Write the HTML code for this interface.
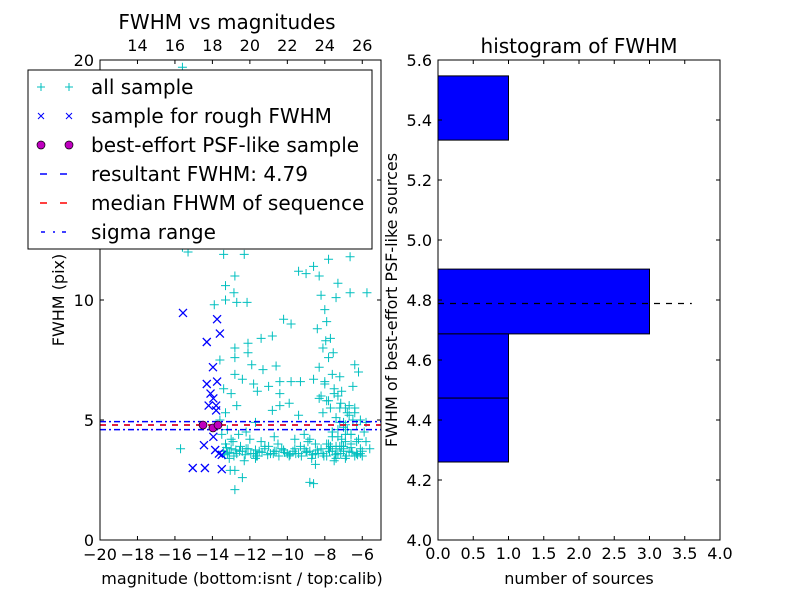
<!DOCTYPE html>
<html><head><meta charset="utf-8"><style>
body{margin:0;background:#fff}
svg{display:block;font-family:"DejaVu Sans","Liberation Sans",sans-serif}
</style></head><body>
<svg id="c" width="800" height="600" xmlns="http://www.w3.org/2000/svg"></svg>
<script>
// ---- data ----
const allX=[-15.6,-15.3,-15.6,-13.4,-12.3,-9.4,-9.0,-8.6,-8.3,-7.8,-6.65,-12.8,-13.3,-12.85,-13.3,-12.7,-12.15,-13.9,-7.3,-6.65,-5.75,-7.4,
-10.2,-9.8,-10.8,-11.4,-12.1,-12.8,-12.1,-12.8,-11.9,-11.3,-10.6,-12.8,-12.4,-11.8,-11.0,-10.4,-9.8,-9.3,-11.6,-10.4,-13.0,-12.7,-10.4,-9.9,-10.8,-9.4,-11.7,-15.7,
-13.05,-12.8,-12.4,-12.8,-8.5,-8.8,-8.6,-7.4,-6.0,-5.6,
-8.2,-8.0,-7.9,-8.4,-7.7,-8.1,-7.8,-8.3,-7.6,-8.0,-7.5,-8.2,-7.9,-7.7,-8.1,-7.4,-7.2,-7.0,-7.6,-7.3,-6.9,-6.7,-7.1,-6.5,-6.8,-7.4,-6.6,-6.3,-7.0,-6.2,-5.9,-6.4,-7.7,-8.5,-8.8,-9.1,-6.1,-5.8,-6.9,-7.2,
-13.4,-13.2,-13.0,-12.7,-12.4,-12.1,-11.8,-11.5,-11.2,-10.9,-10.6,-10.3,-10.0,-9.7,-9.4,-9.1,-8.8,-8.5,-8.2,-7.9,-7.6,-7.3,-7.0,-6.7,-6.4,-6.1,-13.3,-12.9,-12.5,-12.0,-11.6,-11.0,-10.5,-9.9,-9.3,-8.7,-8.1,-7.5,-6.9,-6.3,
-13.5,-13.6,-13.3,-13.4,-13.2,-13.6,-13.0,-12.6,-12.2,-11.4,-10.7,-9.6,-8.9,-7.8,-7.1,-6.6,-5.8,-13.1,-12.3,-11.7,
-13.35,-13.1,-12.85,-12.55,-12.25,-11.95,-11.65,-11.35,-11.05,-10.75,-10.45,-10.15,-9.85,-9.55,-9.25,-8.95,-8.65,-8.35,-8.05,-7.75,-7.45,-7.15,-6.85,-6.55,-6.25,
-13.25,-12.75,-12.2,-11.7,-11.2,-10.7,-10.2,-9.6,-9.0,-8.4,-7.8,-7.2,-6.6,-6.0,
-7.9,-7.6,-7.3,-7.0,-6.7,-6.4,-6.1,-7.8,-7.5,-7.2,-6.9,-6.6,-6.3,-7.7,-7.4,-7.1,-6.8,-6.5,-8.0,-7.3,-6.9,-6.2,-7.6,-7.0,-6.4,-8.3,-8.6,-7.95,-7.55,-7.15];
const allY=[19.7,12.0,12.2,11.9,11.9,11.2,11.1,11.4,11.0,11.7,11.8,11.0,10.6,10.3,10.0,9.9,9.9,9.8,10.7,10.3,10.3,10.1,
9.2,9.0,8.5,8.4,8.2,8.0,7.8,7.6,7.3,7.1,7.25,6.9,6.7,6.5,6.4,6.6,6.6,6.6,6.2,6.1,6.1,5.6,5.6,5.7,5.4,5.2,4.9,3.8,
2.9,2.9,2.6,2.1,3.15,2.4,2.35,3.4,3.5,3.8,
10.2,9.6,9.1,8.8,8.4,8.0,7.6,7.2,6.9,6.6,6.3,6.0,5.8,5.5,5.3,5.1,4.9,4.7,4.5,4.3,4.1,5.6,6.2,5.0,4.6,3.9,4.4,4.8,3.7,4.2,4.5,5.3,3.9,4.0,4.2,4.4,3.6,4.9,5.5,6.8,
3.7,3.6,3.8,3.6,3.7,3.8,3.6,3.7,3.9,3.6,3.7,3.8,3.6,3.7,3.6,3.8,3.7,3.6,3.8,3.5,3.7,3.6,3.9,3.7,3.5,3.8,4.0,4.1,3.9,4.2,3.5,3.9,4.0,3.5,3.9,3.4,3.6,3.3,3.4,3.6,
4.4,5.0,5.3,6.3,4.6,7.5,4.2,4.4,4.5,4.1,4.3,4.2,4.1,4.0,3.9,4.0,4.1,3.4,3.3,3.4,
3.55,3.65,3.5,3.7,3.55,3.6,3.5,3.65,3.55,3.6,3.5,3.65,3.55,3.6,3.5,3.65,3.55,3.6,3.5,3.7,3.55,3.6,3.5,3.65,3.55,
3.85,3.75,3.8,3.75,3.8,3.7,3.75,3.8,3.7,3.75,3.8,3.9,3.85,3.7,
4.0,4.3,4.6,4.9,5.2,5.5,5.0,5.8,6.1,5.5,4.8,4.4,4.1,3.9,3.8,4.2,5.3,6.4,6.5,6.0,4.4,7.0,4.5,3.8,7.3,5.9,6.7,8.3,7.8,5.7];
const roughX=[-15.57,-13.75,-13.6,-14.3,-13.97,-14.3,-13.75,-14.1,-13.95,-14.2,-13.8,-13.8,-14.45,-13.95,-13.85,-13.65,-13.5,-15.05,-14.4,-13.5];
const roughY=[9.46,9.2,8.6,8.25,7.2,6.5,6.6,6.1,5.9,5.6,5.6,5.4,3.95,4.3,3.75,3.6,3.55,3.0,3.0,2.95];
const psfX=[-14.5,-13.97,-13.7];
const psfY=[4.79,4.67,4.79];
const resultFWHM=4.79, medianFWHM=4.79, sigmaHi=4.93, sigmaLo=4.6;
const binLo=[5.333,4.687,4.473,4.26];
const binHi=[5.547,4.903,4.687,4.473];
const binCount=[1,3,1,1];
const botTicks=[-20,-18,-16,-14,-12,-10,-8,-6];
const topTicks=[14,16,18,20,22,24,26];
const leftYTicks=[0,5,10,15,20];
const hxTicks=[0,0.5,1,1.5,2,2.5,3,3.5,4];
const hyTicks=[4.0,4.2,4.4,4.6,4.8,5.0,5.2,5.4,5.6];

// ---- axes ----
const L={x0:100,x1:381,y0:540,y1:60};
const lx=v=>L.x0+(v+20)/15*(L.x1-L.x0);
const ly=v=>L.y0-v/20*(L.y0-L.y1);
const tx=v=>lx(v-32);
const R={x0:438,x1:720,y0:540,y1:60};
const rx=v=>R.x0+v/4*(R.x1-R.x0);
const ry=v=>R.y0-(v-4)/1.6*(R.y0-R.y1);

const svg=document.getElementById('c');
const NS='http://www.w3.org/2000/svg';
function el(tag,attrs,parent,text){const e=document.createElementNS(NS,tag);for(const k in attrs)e.setAttribute(k,attrs[k]);if(text!=null)e.textContent=text;(parent||svg).appendChild(e);return e;}
const fmtMinus=v=>String(v).replace('-','\u2212');

// left plot
const gL=el('g',{});


el('rect',{x:L.x0,y:L.y1,width:L.x1-L.x0,height:L.y0-L.y1,fill:'#fff'},gL);
const gAll=el('g',{stroke:'#00bfbf','stroke-width':1},gL);


allX.forEach((v,i)=>{const x=lx(v),y=ly(allY[i]);
 const p=el('path',{d:`M${x-4.5},${y}h9M${x},${y-4.5}v9`},gAll);
 
 });
const gR=el('g',{stroke:'#0000ff','stroke-width':1.3},gL);


roughX.forEach((v,i)=>{const x=lx(v),y=ly(roughY[i]);
 const p=el('path',{d:`M${x-4},${y-4}l8,8M${x-4},${y+4}l8,-8`},gR);
 
 });
// lines
const l1=el('line',{x1:L.x0,x2:L.x1,y1:ly(sigmaHi),y2:ly(sigmaHi),stroke:'#0000ff','stroke-width':1.5,'stroke-dasharray':'6,3,2,3'},gL);

const l2=el('line',{x1:L.x0,x2:L.x1,y1:ly(sigmaLo),y2:ly(sigmaLo),stroke:'#0000ff','stroke-width':1.5,'stroke-dasharray':'6,3,2,3'},gL);

const l3=el('line',{x1:L.x0,x2:L.x1,y1:ly(resultFWHM),y2:ly(resultFWHM),stroke:'#0000ff','stroke-width':1.5,'stroke-dasharray':'6,6'},gL);

const l4=el('line',{x1:L.x0,x2:L.x1,y1:ly(medianFWHM),y2:ly(medianFWHM),stroke:'#ff0000','stroke-width':1.5,'stroke-dasharray':'6,6'},gL);

psfX.forEach((v,i)=>{const c=el('circle',{cx:lx(v),cy:ly(psfY[i]),r:4,fill:'#bf00bf',stroke:'#000','stroke-width':0.7},gL);
 
 });
el('rect',{x:L.x0,y:L.y1,width:L.x1-L.x0,height:L.y0-L.y1,fill:'none',stroke:'#000','stroke-width':1},gL);
botTicks.forEach(v=>{const x=lx(v);el('path',{d:`M${x},${L.y0}v-4`,stroke:'#000'},gL);
 const t=el('text',{x:x,y:L.y0+20,'font-size':16,'text-anchor':'middle'},gL,fmtMinus(v));
 });
topTicks.forEach(v=>{const x=tx(v);el('path',{d:`M${x},${L.y1}v4`,stroke:'#000'},gL);
 const t=el('text',{x:x,y:L.y1-9,'font-size':16,'text-anchor':'middle'},gL,String(v));
 });
leftYTicks.forEach(v=>{const y=ly(v);el('path',{d:`M${L.x0},${y}h4M${L.x1},${y}h-4`,stroke:'#000'},gL);
 const t=el('text',{x:L.x0-6,y:y+6,'font-size':16,'text-anchor':'end'},gL,String(v));
 });
let t=el('text',{x:227,y:29,'font-size':20,'text-anchor':'middle'},gL,'FWHM vs magnitudes');

t=el('text',{x:242,y:584,'font-size':16,'text-anchor':'middle'},gL,'magnitude (bottom:isnt / top:calib)');

t=el('text',{x:64,y:300,'font-size':16,'text-anchor':'middle',transform:'rotate(-90 64 300)'},gL,'FWHM (pix)');


// legend
const gLg=el('g',{},gL);


el('rect',{x:28,y:70,width:344,height:179,fill:'#fff',stroke:'#000','stroke-width':1},gLg);
const labels=['all sample','sample for rough FWHM','best-effort PSF-like sample','resultant FWHM: 4.79','median FHWM of sequence','sigma range'];
labels.forEach((s,i)=>{const y=87+i*29;
 const g=el('g',{},gLg);
 
 
 if(i==0)el('path',{d:`M37,${y}h8M41,${y-4}v8M65,${y}h8M69,${y-4}v8`,stroke:'#00bfbf'},g);
 if(i==1)el('path',{d:`M38,${y-3}l6,6M38,${y+3}l6,-6M66,${y-3}l6,6M66,${y+3}l6,-6`,stroke:'#0000ff'},g);
 if(i==2){el('circle',{cx:41,cy:y,r:4,fill:'#bf00bf',stroke:'#000','stroke-width':0.7},g);el('circle',{cx:69,cy:y,r:4,fill:'#bf00bf',stroke:'#000','stroke-width':0.7},g);}
 if(i==3)el('path',{d:`M40,${y}h7M60,${y}h7`,stroke:'#0000ff','stroke-width':1.5},g);
 if(i==4)el('path',{d:`M40,${y}h7M60,${y}h7`,stroke:'#ff0000','stroke-width':1.5},g);
 if(i==5)el('path',{d:`M41,${y}h4M53,${y}h2M62,${y}h4`,stroke:'#0000ff','stroke-width':1.5},g);
 el('text',{x:91,y:y+7,'font-size':20},g,s);});

// right plot
const gH=el('g',{});


binLo.forEach((lo,i)=>{const r=el('rect',{x:rx(0),y:ry(binHi[i]),width:rx(binCount[i])-rx(0),height:ry(lo)-ry(binHi[i]),fill:'#0000ff',stroke:'#000','stroke-width':1},gH);
 
 });
const hl=el('line',{x1:rx(0),x2:rx(3.6),y1:ry(resultFWHM)+0.5,y2:ry(resultFWHM)+0.5,stroke:'#000','stroke-width':1.3,'stroke-dasharray':'6,6'},gH);

el('rect',{x:R.x0,y:R.y1,width:R.x1-R.x0,height:R.y0-R.y1,fill:'none',stroke:'#000'},gH);
hxTicks.forEach(v=>{const x=rx(v);el('path',{d:`M${x},${R.y0}v-4M${x},${R.y1}v4`,stroke:'#000'},gH);
 const t=el('text',{x:x,y:R.y0+19,'font-size':16,'text-anchor':'middle'},gH,v.toFixed(1));
 });
hyTicks.forEach(v=>{const y=ry(v);el('path',{d:`M${R.x0},${y}h4M${R.x1},${y}h-4`,stroke:'#000'},gH);
 const t=el('text',{x:R.x0-6,y:y+6,'font-size':16,'text-anchor':'end'},gH,v.toFixed(1));
 });
t=el('text',{x:579,y:53,'font-size':20,'text-anchor':'middle'},gH,'histogram of FWHM');

t=el('text',{x:579,y:584,'font-size':16,'text-anchor':'middle'},gH,'number of sources');

t=el('text',{x:397,y:300,'font-size':16,'text-anchor':'middle',transform:'rotate(-90 397 300)'},gH,'FWHM of best-effort PSF-like sources');

</script>
</body></html>
